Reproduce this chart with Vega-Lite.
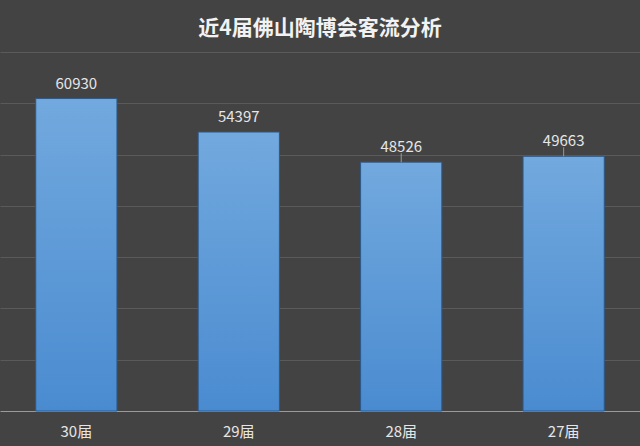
{
  "$schema": "https://vega.github.io/schema/vega-lite/v6.json",
  "width": 640,
  "height": 359,
  "autosize": {"type": "none"},
  "padding": {"top": 52, "left": 0, "right": 0, "bottom": 35},
  "background": "#444343",
  "title": {
    "text": "近4届佛山陶博会客流分析",
    "font": "Noto Sans CJK SC",
    "fontSize": 21,
    "fontWeight": "bold",
    "color": "#f2f2f2",
    "anchor": "middle",
    "offset": 13
  },
  "config": {
    "view": {"stroke": null},
    "font": "Noto Sans CJK SC"
  },
  "data": {
    "values": [
      {"edition": "30届", "visitors": 60930},
      {"edition": "29届", "visitors": 54397},
      {"edition": "28届", "visitors": 48526},
      {"edition": "27届", "visitors": 49663}
    ]
  },
  "encoding": {
    "x": {
      "field": "edition",
      "type": "nominal",
      "sort": null,
      "scale": {"paddingInner": 0.5, "paddingOuter": 0.22},
      "axis": {
        "title": null,
        "labelAngle": 0,
        "labelColor": "#e6e6e6",
        "labelFontSize": 15,
        "labelFont": "Noto Sans CJK SC",
        "labelPadding": 13,
        "ticks": false,
        "domainColor": "#9a9a9a",
        "domainWidth": 1
      }
    },
    "y": {
      "field": "visitors",
      "type": "quantitative",
      "scale": {"domain": [0, 70000], "nice": false},
      "axis": {
        "title": null,
        "labels": false,
        "ticks": false,
        "domain": false,
        "values": [10000, 20000, 30000, 40000, 50000, 60000, 70000],
        "gridColor": "#5b5a5a",
        "gridWidth": 1
      }
    }
  },
  "layer": [
    {
      "mark": {
        "type": "bar",
        "stroke": "#2b5a8c",
        "strokeWidth": 1,
        "color": {
          "gradient": "linear",
          "x1": 0, "y1": 0, "x2": 0, "y2": 1,
          "stops": [
            {"offset": 0, "color": "#72a9de"},
            {"offset": 1, "color": "#4a8bd0"}
          ]
        }
      }
    },
    {
      "transform": [{"filter": "datum.edition == '28届' || datum.edition == '27届'"}],
      "mark": {
        "type": "tick",
        "orient": "vertical",
        "size": 9,
        "thickness": 1,
        "yOffset": -4.5,
        "color": "#bdbdbd"
      }
    },
    {
      "mark": {
        "type": "text",
        "baseline": "alphabetic",
        "dy": -10,
        "fontSize": 15,
        "color": "#e6e6e6",
        "font": "Noto Sans CJK SC"
      },
      "encoding": {
        "text": {"field": "visitors", "type": "quantitative", "format": "d"}
      }
    }
  ]
}
